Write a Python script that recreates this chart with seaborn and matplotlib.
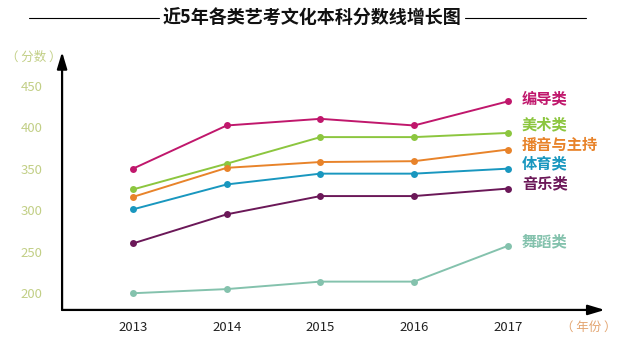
import matplotlib
matplotlib.use("Agg")
import matplotlib.pyplot as plt
import seaborn as sns
import pandas as pd

# data
years = [2013, 2014, 2015, 2016, 2017]
categories = ["编导类", "美术类", "播音与主持", "体育类", "音乐类", "舞蹈类"]
bd = [350, 402, 410, 402, 431]
ms = [325, 356, 388, 388, 393]
by = [316, 351, 358, 359, 373]
ty = [301, 331, 344, 344, 350]
yy = [260, 295, 317, 317, 326]
wd = [200, 205, 214, 214, 257]
series = [bd, ms, by, ty, yy, wd]
colors = ["#c0176c", "#8cc63f", "#e8832a", "#1997bf", "#6b1858", "#84c2ad"]
label_y = [435, 403, 379, 357, 332, 262]
y_ticks = [200, 250, 300, 350, 400, 450]

rows = []
for cat, vals in zip(categories, series):
    for yr, v in zip(years, vals):
        rows.append({"year": yr, "score": v, "cat": cat})
df = pd.DataFrame(rows)

sns.set_style("white")
plt.rcParams["font.family"] = ["Noto Sans CJK SC", "DejaVu Sans"]

fig = plt.figure(figsize=(6.4, 3.53), dpi=100)
ax = fig.add_axes([0.097, 0.122, 0.848, 0.731])

sns.lineplot(data=df, x="year", y="score", hue="cat", hue_order=categories,
             palette=dict(zip(categories, colors)), marker="o", markersize=5,
             markeredgewidth=0, linewidth=1.4, legend=False, ax=ax)

for cat, col, ly in zip(categories, colors, label_y):
    ax.text(2017.15, ly, cat, color=col, fontsize=11, fontweight="bold",
            va="center", ha="left")

ax.set_xlim(2012.243, 2018.035)
ax.set_ylim(179.9, 490.6)
ax.set_xticks(years)
ax.set_xticklabels([str(y) for y in years])
ax.set_yticks(y_ticks)
ax.set_yticklabels([str(t) for t in y_ticks])
ax.set_xlabel("")
ax.set_ylabel("")
for s in ax.spines.values():
    s.set_visible(False)
ax.tick_params(axis="y", direction="in", length=4, width=2, color="black",
               pad=14, labelsize=9.5, labelcolor="#c2cf86")
ax.tick_params(axis="x", direction="in", length=3, width=2.5, color="black",
               pad=8, labelsize=9.5, labelcolor="#222222")

# axis arrows
arrow = dict(arrowstyle="-|>,head_length=1.0,head_width=0.3", color="black",
             lw=1.6, shrinkA=0, shrinkB=0)
ax.annotate("", xy=(1, 0), xytext=(0, 0), xycoords="axes fraction",
            textcoords="axes fraction", arrowprops=arrow, annotation_clip=False)
ax.annotate("", xy=(0, 1), xytext=(0, 0), xycoords="axes fraction",
            textcoords="axes fraction", arrowprops=arrow, annotation_clip=False)

fig.text(0.053, 0.838, "（ 分数 ）", color="#c2cf86", fontsize=9, ha="center", va="center")
fig.text(0.92, 0.073, "（ 年份 ）", color="#e3a46f", fontsize=9, ha="center", va="center")

# title with side rules
fig.text(0.488, 0.949, "近5年各类艺考文化本科分数线增长图", fontsize=13,
         fontweight="bold", ha="center", va="center", color="#111111")
fig.add_artist(plt.Line2D([0.045, 0.248], [0.949, 0.949], color="black", lw=0.8))
fig.add_artist(plt.Line2D([0.726, 0.915], [0.949, 0.949], color="black", lw=0.8))

fig.savefig("out.png", dpi=100)
